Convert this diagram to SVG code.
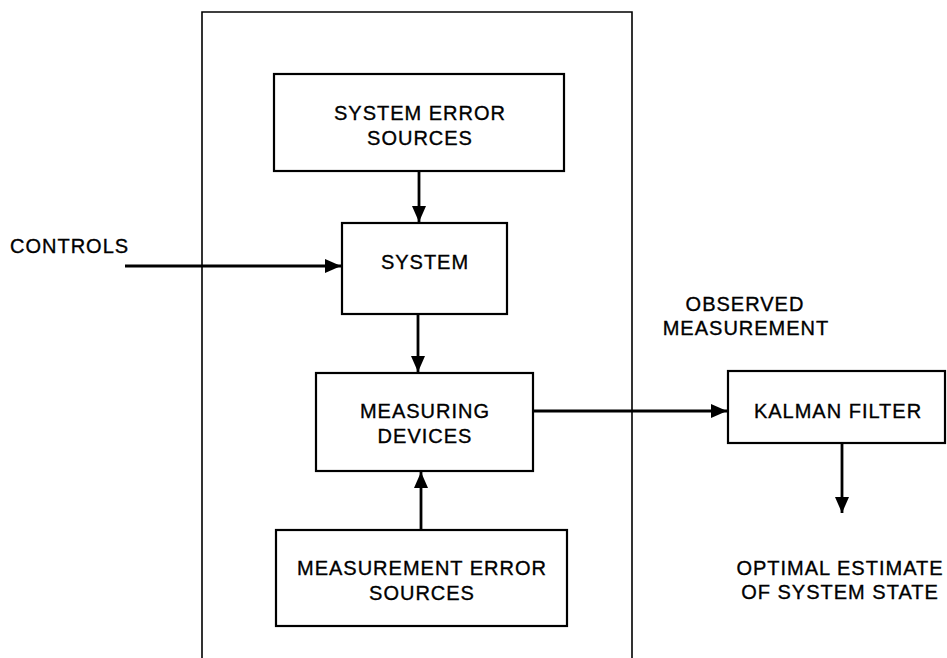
<svg xmlns="http://www.w3.org/2000/svg" width="947" height="658" viewBox="0 0 947 658">
  <style>
    .box { fill: #ffffff; stroke: #000000; stroke-width: 2.2; }
    .frame { fill: none; stroke: #000000; stroke-width: 1.6; }
    .lbl { font-family: "Liberation Sans", Arial, sans-serif; font-size: 20px; letter-spacing: 1px; fill: #000000; text-anchor: middle; stroke: #000000; stroke-width: 0.35; }
    .wire { fill: none; stroke: #000000; stroke-width: 2.8; }
  </style>
  <defs>
    <marker id="arrow" viewBox="0 0 16 14" refX="16" refY="7" markerWidth="16" markerHeight="14" markerUnits="userSpaceOnUse" orient="auto">
      <path d="M0,0 L16,7 L0,14 Z" fill="#000000"/>
    </marker>
  </defs>

  <rect width="947" height="658" fill="#ffffff"/>

  <!-- enclosing frame around the physical system (open at the bottom) -->
  <path class="frame" d="M202,658 L202,12 L632,12 L632,658"/>

  <g id="system-error-sources">
    <rect class="box" x="274" y="74" width="290" height="97"/>
    <text class="lbl" x="420" y="120">SYSTEM ERROR</text>
    <text class="lbl" x="420" y="145">SOURCES</text>
  </g>

  <g id="system">
    <rect class="box" x="342" y="223" width="165" height="91"/>
    <text class="lbl" x="425" y="269">SYSTEM</text>
  </g>

  <g id="measuring-devices">
    <rect class="box" x="316" y="373" width="217" height="98"/>
    <text class="lbl" x="425" y="418">MEASURING</text>
    <text class="lbl" x="425" y="443">DEVICES</text>
  </g>

  <g id="measurement-error-sources">
    <rect class="box" x="276" y="530" width="291" height="96"/>
    <text class="lbl" x="422" y="575">MEASUREMENT ERROR</text>
    <text class="lbl" x="422" y="600">SOURCES</text>
  </g>

  <g id="kalman-filter">
    <rect class="box" x="728" y="371" width="217" height="72"/>
    <text class="lbl" x="838" y="418">KALMAN FILTER</text>
  </g>

  <g id="labels">
    <text class="lbl" x="10" y="253" style="text-anchor:start">CONTROLS</text>
    <text class="lbl" x="745" y="311">OBSERVED</text>
    <text class="lbl" x="746" y="335">MEASUREMENT</text>
    <text class="lbl" x="840" y="575">OPTIMAL ESTIMATE</text>
    <text class="lbl" x="840" y="599">OF SYSTEM STATE</text>
  </g>

  <g id="connectors">
    <line class="wire" x1="125" y1="266" x2="341" y2="266" marker-end="url(#arrow)"/>
    <line class="wire" x1="419" y1="171" x2="419" y2="222" marker-end="url(#arrow)"/>
    <line class="wire" x1="418" y1="314" x2="418" y2="372" marker-end="url(#arrow)"/>
    <line class="wire" x1="421" y1="530" x2="421" y2="472" marker-end="url(#arrow)"/>
    <line class="wire" x1="533" y1="411" x2="727" y2="411" marker-end="url(#arrow)"/>
    <line class="wire" x1="842" y1="443" x2="842" y2="513" marker-end="url(#arrow)"/>
  </g>
</svg>
